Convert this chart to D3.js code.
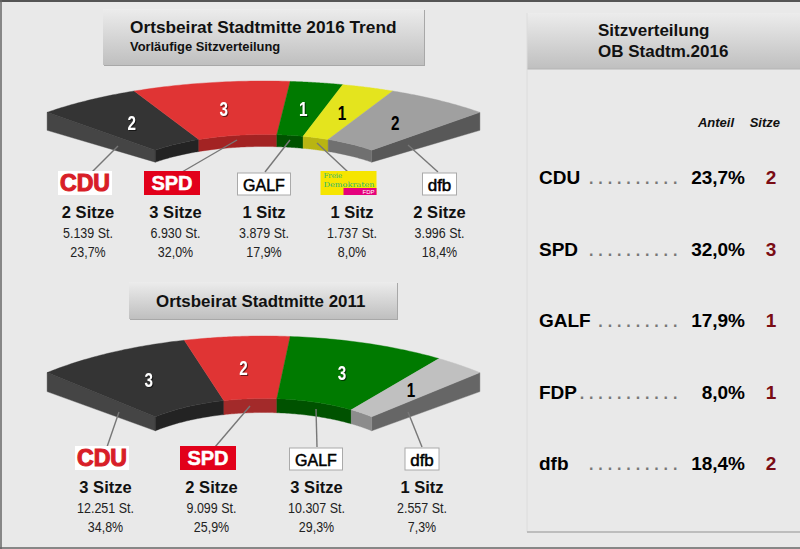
<!DOCTYPE html>
<html><head><meta charset="utf-8">
<style>html,body{margin:0;padding:0;background:#e9e9e9;overflow:hidden}svg{display:block}text{font-family:"Liberation Sans",Arial,sans-serif}</style>
<script src="https://cdn.jsdelivr.net/npm/d3@7/dist/d3.min.js"></script>
</head><body><script>
// ---- data
const parties2016 = ["CDU","SPD","GALF","FDP","dfb"];
const seats2016 = [2,3,1,1,2];
const votes2016 = ["5.139","6.930","3.879","1.737","3.996"];
const share2016 = ["23,7","32,0","17,9","8,0","18,4"];
const parties2011 = ["CDU","SPD","GALF","dfb"];
const seats2011 = [3,2,3,1];
const votes2011 = ["12.251","9.099","10.307","2.557"];
const share2011 = ["34,8","25,9","29,3","7,3"];
const dotCounts = [10,10,9,11,10];

// ---- styles
const topColor = {CDU:"#343434",SPD:"#e03434",GALF:"#007a00",FDP:"#e4e41e",dfb:"#a0a0a0"};
const wallColor = {CDU:"#232323",SPD:"#a32323",GALF:"#005200",FDP:"#b9b512",dfb:"#707070"};
const numColor = {CDU:"#fff",SPD:"#fff",GALF:"#fff",FDP:"#000",dfb:"#000"};

const W=800,H=549;
const svg=d3.select("body").append("svg").attr("width",W).attr("height",H);
const defs=svg.append("defs");
const grad=defs.append("linearGradient").attr("id","btn").attr("x1",0).attr("x2",0).attr("y1",0).attr("y2",1);
grad.append("stop").attr("offset",0).attr("stop-color","#ececec");
grad.append("stop").attr("offset",1).attr("stop-color","#bfbfbf");
svg.append("rect").attr("width",W).attr("height",H).attr("fill","#e9e9e9");

function button(x,y,w,h){
  svg.append("rect").attr("x",x+1).attr("y",y+1).attr("width",w).attr("height",h).attr("fill","#a8a8a8");
  svg.append("rect").attr("x",x).attr("y",y).attr("width",w).attr("height",h).attr("fill","url(#btn)");
}
function txt(g,x,y,s,size,opt={}){
  return g.append("text").attr("x",x).attr("y",y).text(s).attr("font-size",size)
    .attr("font-weight",opt.weight||"normal").attr("font-style",opt.style||"normal")
    .attr("text-anchor",opt.anchor||"middle").attr("fill",opt.fill||"#000");
}
function squeeze(t,k){
  t.attr("textLength",t.node().getComputedTextLength()*k).attr("lengthAdjust","spacingAndGlyphs");
  return t;
}

// ---- titles
button(103,9,321,56);
txt(svg,130,33,"Ortsbeirat Stadtmitte 2016 Trend",17.25,{weight:"bold",anchor:"start",fill:"#111"});
txt(svg,130,51,"Vorläufige Sitzverteilung",12.9,{weight:"bold",anchor:"start",fill:"#111"});
button(129,282,268,37);
txt(svg,156,307,"Ortsbeirat Stadtmitte 2011",16.9,{weight:"bold",anchor:"start",fill:"#111"});

// ---- perspective half-ring
function ring(cfg){
  const g=svg.append("g");
  const ends=d3.cumsum(cfg.seats);
  const angle=d3.scaleLinear().domain([0,d3.sum(cfg.seats)]).range([-45,45]);
  const xr=d3.scaleLinear().domain([0,1]).range([0,cfg.rx]);
  const yr=d3.scaleLinear().domain([0,1]).range([0,cfg.ry]);
  const depth=d3.scaleLinear().domain([0.5,1]).range(cfg.depth);
  const pt=(deg,r,down)=>{
    const a=deg*Math.PI/180;
    return [cfg.cx+xr(r)*Math.sin(a), cfg.cy-yr(r)*Math.cos(a)+(down?depth(r):0)];
  };
  const line=d3.line();
  const arc=(a0,a1,r,down)=>d3.range(0,41).map(i=>pt(a0+(a1-a0)*i/40,r,down));
  const poly=(pts,fill)=>g.append("path").attr("d",line(pts)+"Z").attr("fill",fill).attr("stroke",fill).attr("stroke-width",0.4);
  poly([pt(-45,1),pt(-45,.5),pt(-45,.5,1),pt(-45,1,1)],cfg.leftFace);
  poly([pt(45,1),pt(45,.5),pt(45,.5,1),pt(45,1,1)],cfg.rightFace);
  cfg.parties.forEach((p,i)=>{
    const a0=angle(i?ends[i-1]:0),a1=angle(ends[i]);
    poly(arc(a0,a1,.5).concat(arc(a1,a0,.5,1)),(cfg.wall&&cfg.wall[p])||wallColor[p]);
    poly(arc(a0,a1,1).concat(arc(a1,a0,.5)),(cfg.top&&cfg.top[p])||topColor[p]);
    const m=pt((a0+a1)/2,.75);
    const t=txt(g,m[0],m[1]+7.5,cfg.seats[i],21,{weight:"bold",fill:numColor[p]})
      .attr("textLength",8.5).attr("lengthAdjust","spacingAndGlyphs");
    if(numColor[p]==="#fff") t.attr("filter","drop-shadow(1px 1px 0.5px rgba(0,0,0,.55))");
  });
  cfg.parties.forEach((p,i)=>{
    const x=cfg.logoX[i], tx=cfg.textX[i];
    g.append("line").attr("x1",cfg.anchors[i][0]).attr("y1",cfg.anchors[i][1])
      .attr("x2",cfg.anchorEnds[i]).attr("y2",cfg.logoY+1)
      .attr("stroke","#777").attr("stroke-width",1.4);
    logo(g,p,x,cfg.logoY);
    txt(g,tx,cfg.logoY+47,cfg.seats[i]+(cfg.seats[i]===1?" Sitz":" Sitze"),16.5,{weight:"bold",fill:"#111"});
    squeeze(txt(g,tx,cfg.logoY+67,cfg.votes[i]+" St.",14,{fill:"#222"}),.89);
    squeeze(txt(g,tx,cfg.logoY+86,cfg.share[i]+"%",14,{fill:"#222"}),.89);
  });
}
function logo(g,p,x,y){
  if(p==="CDU"){
    g.append("rect").attr("x",x-27).attr("y",y).attr("width",54).attr("height",24).attr("fill","#fff");
    txt(g,x,y+20,"CDU",23,{weight:"bold",fill:"#d81e28"}).attr("stroke","#d81e28").attr("stroke-width",1.1)
      .attr("textLength",50).attr("lengthAdjust","spacingAndGlyphs");
  }else if(p==="SPD"){
    g.append("rect").attr("x",x-28).attr("y",y).attr("width",56).attr("height",24).attr("fill","#e2001a");
    txt(g,x,y+19,"SPD",20,{weight:"bold",fill:"#fff"}).attr("stroke","#fff").attr("stroke-width",.5);
  }else if(p==="GALF"){
    g.append("rect").attr("x",x-26.5).attr("y",y+2).attr("width",53).attr("height",22).attr("fill","#fff").attr("stroke","#aaa");
    txt(g,x,y+19.5,"GALF",16,{fill:"#000"}).attr("stroke","#000").attr("stroke-width",.5);
  }else if(p==="dfb"){
    g.append("rect").attr("x",x-17).attr("y",y+2).attr("width",34).attr("height",22).attr("fill","#fff").attr("stroke","#aaa");
    txt(g,x,y+19.5,"dfb",17,{fill:"#000"}).attr("stroke","#000").attr("stroke-width",.5);
  }else{
    g.append("rect").attr("x",x-28).attr("y",y).attr("width",56).attr("height",24).attr("fill","#f6e500");
    txt(g,x-25,y+7,"Freie",7,{anchor:"start",fill:"#2bb673"}).style("font-family",'"DejaVu Serif",serif');
    txt(g,x-25,y+15.5,"Demokraten",7,{anchor:"start",fill:"#2bb673"}).style("font-family",'"DejaVu Serif",serif')
      .attr("textLength",51).attr("lengthAdjust","spacingAndGlyphs");
    g.append("rect").attr("x",x-5).attr("y",y+17).attr("width",33).attr("height",7).attr("fill","#e5007d");
    txt(g,x+26,y+23,"FDP",6,{anchor:"end",fill:"#fff"});
  }
}
ring({parties:parties2016,seats:seats2016,votes:votes2016,share:share2016,
  cx:263.5,cy:188,rx:306,ry:107,depth:[12,18],leftFace:"#454545",rightFace:"#585858",
  logoX:[85,172,264,348.5,439.5],textX:[88,175.5,264,352,439.5],logoY:171,
  anchors:[[118,146],[237,140],[290,140],[317,143],[408,145]],anchorEnds:[92,182,265,348,438]});
ring({parties:parties2011,seats:seats2011,votes:votes2011,share:share2011,
  cx:263.5,cy:461,rx:306,ry:125,depth:[14,19],leftFace:"#454545",rightFace:"#666",
  top:{dfb:"#c0c0c0"},wall:{dfb:"#8c8c8c",SPD:"#a32a2a"},
  logoX:[102,208,316,422],textX:[105.5,211.5,316.5,422],logoY:446,
  anchors:[[119,412],[250,406],[316,409],[408,412]],anchorEnds:[107,215,317,422]});

// ---- right panel
svg.append("rect").attr("x",527).attr("y",13).attr("width",273).attr("height",56).attr("fill","url(#btn)");
svg.append("line").attr("x1",527).attr("x2",800).attr("y1",69).attr("y2",69).attr("stroke","#b5b5b5");
svg.append("line").attr("x1",527).attr("x2",527).attr("y1",13).attr("y2",532).attr("stroke","#dcdcdc");
svg.append("line").attr("x1",527).attr("x2",800).attr("y1",532).attr("y2",532).attr("stroke","#bdbdbd").attr("stroke-width",2);
txt(svg,598,36,"Sitzverteilung",17,{weight:"bold",anchor:"start",fill:"#111"});
txt(svg,598,57,"OB Stadtm.2016",17,{weight:"bold",anchor:"start",fill:"#111"});
txt(svg,734,127,"Anteil",13,{weight:"bold",style:"italic",anchor:"end",fill:"#111"});
txt(svg,780,127,"Sitze",13,{weight:"bold",style:"italic",anchor:"end",fill:"#111"});
const rowY=d3.scalePoint().domain(parties2016).range([184,470]);
const dotStep=9.33, dotEnd=675;
parties2016.forEach((p,i)=>{
  const y=rowY(p);
  txt(svg,539,y,p,19,{weight:"bold",anchor:"start"});
  txt(svg,dotEnd-(dotCounts[i]-1)*dotStep-2,y,".".repeat(dotCounts[i]),16,{weight:"bold",anchor:"start",fill:"#777"})
    .attr("letter-spacing",dotStep-4.45);
  txt(svg,745,y,share2016[i]+"%",19,{weight:"bold",anchor:"end"});
  txt(svg,771,y,seats2016[i],19,{weight:"bold",fill:"#7a0c14"});
});

// ---- outer frame
svg.append("line").attr("x1",0).attr("x2",W).attr("y1",1).attr("y2",1).attr("stroke","#555").attr("stroke-width",2);
svg.append("line").attr("x1",1).attr("x2",1).attr("y1",0).attr("y2",H).attr("stroke","#666").attr("stroke-width",1.5);
svg.append("line").attr("x1",0).attr("x2",W).attr("y1",548).attr("y2",548).attr("stroke","#666").attr("stroke-width",1.5);
</script></body></html>
